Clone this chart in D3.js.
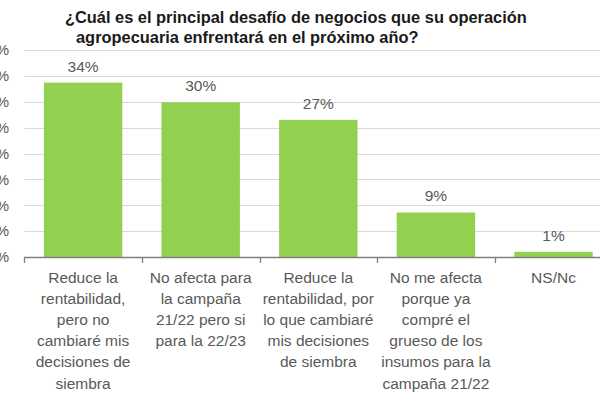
<!DOCTYPE html>
<html>
<head>
<meta charset="utf-8">
<script src="https://cdn.jsdelivr.net/npm/d3@7"></script>
<style>
  html, body { margin: 0; padding: 0; background: #ffffff; }
  svg { display: block; }
</style>
</head>
<body>
<svg id="chart" width="600" height="400"></svg>
<script>
const titleLines = [
  "¿Cuál es el principal desafío de negocios que su operación",
  "agropecuaria enfrentará en el próximo año?"
];
const categories = [
  ["Reduce la", "rentabilidad,", "pero no", "cambiaré mis", "decisiones de", "siembra"],
  ["No afecta para", "la campaña", "21/22 pero si", "para la 22/23"],
  ["Reduce la", "rentabilidad, por", "lo que cambiaré", "mis decisiones", "de siembra"],
  ["No me afecta", "porque ya", "compré el", "grueso de los", "insumos para la", "campaña 21/22"],
  ["NS/Nc"]
];
const values = [33.7, 29.9, 26.5, 8.6, 1.0];
const valueLabels = ["34%", "30%", "27%", "9%", "1%"];
const yTicks = [0, 5, 10, 15, 20, 25, 30, 35, 40];

const svg = d3.select("#chart");
const font = "'Liberation Sans', Arial, sans-serif";
const grey = "#595959";

const keys = categories.map((c, i) => "c" + i);
const x = d3.scaleBand().domain(keys).range([24.3, 612.3])
  .paddingInner(0.3333).paddingOuter(0.16665);
const y = d3.scaleLinear().domain([0, 40]).range([257, 50]);

// gridlines
svg.append("g").selectAll("line").data(yTicks.filter(t => t > 0)).join("line")
  .attr("x1", 24.3).attr("x2", 612.3)
  .attr("y1", d => Math.round(y(d)) + 0.5).attr("y2", d => Math.round(y(d)) + 0.5)
  .attr("stroke", "#d9d9d9").attr("stroke-width", 1);

// y tick labels (cut off at the left edge, as in the reference)
svg.append("g").selectAll("text").data(yTicks).join("text")
  .attr("x", 9).attr("y", d => y(d) + 5.3)
  .attr("text-anchor", "end")
  .attr("font-family", font).attr("font-size", 15).attr("fill", grey)
  .text(d => d + "%");

// bars
svg.append("g").selectAll("rect").data(values).join("rect")
  .attr("x", (d, i) => x(keys[i]))
  .attr("width", x.bandwidth())
  .attr("y", d => y(d))
  .attr("height", d => y(0) - y(d))
  .attr("fill", "#92D050");

// value labels
svg.append("g").selectAll("text").data(values).join("text")
  .attr("x", (d, i) => x(keys[i]) + x.bandwidth() / 2)
  .attr("y", d => y(d) - 11)
  .attr("text-anchor", "middle")
  .attr("font-family", font).attr("font-size", 15.5).attr("fill", grey)
  .text((d, i) => valueLabels[i]);

// x axis line and ticks at band boundaries
const half = (x.step() - x.bandwidth()) / 2;
const bounds = keys.map(k => x(k) - half).concat([x(keys[keys.length - 1]) + x.bandwidth() + half]);
svg.append("line")
  .attr("x1", bounds[0]).attr("x2", bounds[bounds.length - 1])
  .attr("y1", y(0) + 0.5).attr("y2", y(0) + 0.5)
  .attr("stroke", "#7f7f7f").attr("stroke-width", 1.3);
svg.append("g").selectAll("line").data(bounds).join("line")
  .attr("x1", d => Math.round(d) + 0.5).attr("x2", d => Math.round(d) + 0.5)
  .attr("y1", y(0)).attr("y2", y(0) + 6)
  .attr("stroke", "#7f7f7f").attr("stroke-width", 1.3);

// category labels
const catG = svg.append("g");
categories.forEach((lines, i) => {
  const t = catG.append("text")
    .attr("text-anchor", "middle")
    .attr("font-family", font).attr("font-size", 15.5).attr("fill", grey);
  lines.forEach((ln, j) => {
    t.append("tspan")
      .attr("x", x(keys[i]) + x.bandwidth() / 2)
      .attr("y", 282.5 + j * 21.2)
      .text(ln);
  });
});

// title
svg.append("text").attr("x", 65).attr("y", 22.7)
  .attr("font-family", font).attr("font-size", 16.4).attr("font-weight", "bold").attr("fill", "#1a1a1a")
  .text(titleLines[0]);
svg.append("text").attr("x", 76).attr("y", 42.7)
  .attr("font-family", font).attr("font-size", 16.4).attr("font-weight", "bold").attr("fill", "#1a1a1a")
  .text(titleLines[1]);
</script>
</body>
</html>
